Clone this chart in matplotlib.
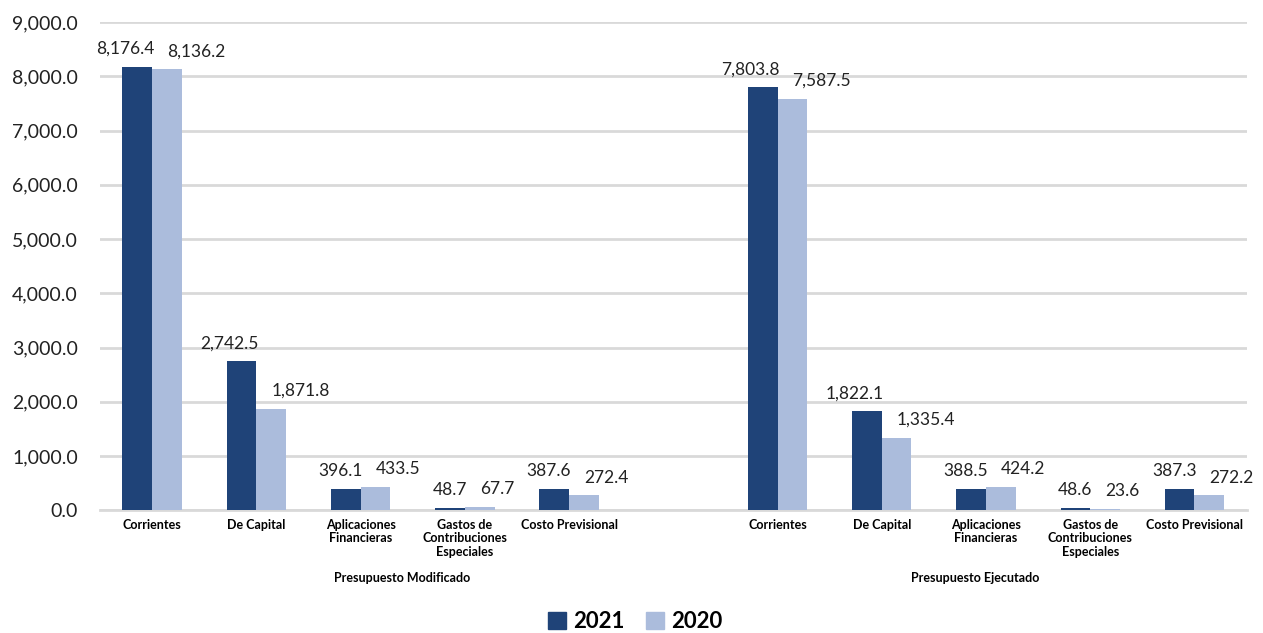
import numpy as np
import matplotlib
matplotlib.use("Agg")
import matplotlib.pyplot as plt
import matplotlib.transforms as mtransforms
from matplotlib.patches import Patch
from matplotlib.ticker import FuncFormatter

plt.rcParams['font.family'] = ['Lato', 'DejaVu Sans']

categories = ["Corrientes", "De Capital", "Aplicaciones\nFinancieras",
              "Gastos de\nContribuciones\nEspeciales", "Costo Previsional"]
groups = ["Presupuesto Modificado", "Presupuesto Ejecutado"]
years = ["2021", "2020"]

mod_2021 = [8176.4, 2742.5, 396.1, 48.7, 387.6]
mod_2020 = [8136.2, 1871.8, 433.5, 67.7, 272.4]
eje_2021 = [7803.8, 1822.1, 388.5, 48.6, 387.3]
eje_2020 = [7587.5, 1335.4, 424.2, 23.6, 272.2]

dark = '#1F4378'
light = '#ABBCDC'
grid_c = '#D9D9D9'

fig = plt.figure(figsize=(12.63, 6.33), dpi=100)
ax = fig.add_axes([0.0792, 0.194, 0.9078, 0.771])

# group 1 on slots 0-4, empty slot 5, group 2 on slots 6-10
x1 = np.arange(5)
x2 = np.arange(6, 11)
w = 0.285

vals_2021 = mod_2021 + eje_2021
vals_2020 = mod_2020 + eje_2020
xs = np.concatenate([x1, x2])

ax.bar(xs - w/2, vals_2021, w, color=dark, zorder=3)
ax.bar(xs + w/2, vals_2020, w, color=light, zorder=3)

# value labels (2021 sits left of the pair centre, 2020 starts at its bar centre)
for x, v in zip(xs, vals_2021):
    ax.annotate(f"{v:,.1f}", (x + 0.02, v), xytext=(0, 7), textcoords='offset points',
                ha='right', va='bottom', fontsize=12.5, color='#222222')
for x, v in zip(xs, vals_2020):
    ax.annotate(f"{v:,.1f}", (x + w/2, v), xytext=(0, 7), textcoords='offset points',
                ha='left', va='bottom', fontsize=12.5, color='#222222')

ax.set_ylim(0, 9000)
ax.set_xlim(-0.5, 10.5)
ax.set_yticks(np.arange(0, 9001, 1000))
ax.yaxis.set_major_formatter(FuncFormatter(lambda v, p: f"{v:,.1f}"))
ax.tick_params(axis='y', length=0, labelsize=14, pad=16, labelcolor='#222222')
ax.grid(axis='y', color=grid_c, linewidth=2, zorder=0)

ax.set_xticks(xs)
ax.set_xticklabels(categories * 2, fontsize=9, fontweight='bold', linespacing=1.15)
ax.tick_params(axis='x', length=0, pad=6)

for s in ['top', 'right', 'left']:
    ax.spines[s].set_visible(False)
ax.spines['bottom'].set_color(grid_c)
ax.spines['bottom'].set_linewidth(2)

trans = mtransforms.blended_transform_factory(ax.transData, ax.transAxes)
ax.text(2.4, -0.139, groups[0], transform=trans, ha='center', va='center',
        fontsize=9, fontweight='bold')
ax.text(7.9, -0.139, groups[1], transform=trans, ha='center', va='center',
        fontsize=9, fontweight='bold')

handles = [Patch(color=dark, label=years[0]), Patch(color=light, label=years[1])]
fig.legend(handles=handles, loc='center', bbox_to_anchor=(0.503, 0.018),
           ncol=2, frameon=False, prop={'weight': 'bold', 'size': 16},
           handlelength=0.8, handleheight=0.8, handletextpad=0.3, columnspacing=1.0)

fig.savefig('out.png', dpi=100)
